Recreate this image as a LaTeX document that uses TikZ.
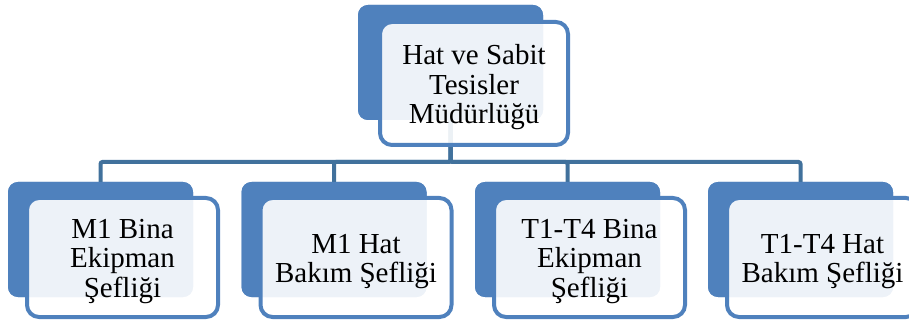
\documentclass[tikz,border=0pt]{standalone}
\usepackage{fontspec}
\setmainfont{Liberation Serif}
\definecolor{accent}{HTML}{4F81BD}
\definecolor{linkblue}{HTML}{41719C}
\tikzset{
  backbox/.style={rectangle, rounded corners=10pt, fill=accent, draw=none,
    minimum width=185pt, minimum height=115pt, inner sep=0pt},
  frontbox/.style={rectangle, rounded corners=12pt, fill=white, fill opacity=0.9,
    draw=accent, draw opacity=1, line width=4pt,
    minimum width=191pt, minimum height=119pt, inner sep=0pt},
  cardtext/.style={align=center, inner sep=0pt, yshift=-4pt,
    font=\fontsize{29}{29.5}\selectfont},
  link/.style={draw=linkblue, line width=4pt, rounded corners=2pt}
}
\begin{document}
\begin{tikzpicture}[x=1pt,y=-1pt]
\useasboundingbox (0,0) rectangle (909,320);
\begin{scope}
\clip (0,0) rectangle (909,320);
% back plates
\node[backbox] (topb) at (450.5,62.5) {};
\node[backbox] (b1) at (100.5,239.5) {};
\node[backbox] (b2) at (334,239.5) {};
\node[backbox] (b3) at (567.5,239.5) {};
\node[backbox] (b4) at (800.5,239.5) {};
% connectors from the head box to each section
\coordinate (bus) at (450.5,162);
\path[link] (topb.south) -- (bus) -| (b1.north);
\path[link] (topb.south) -- (bus) -| (b2.north);
\path[link] (topb.south) -- (bus) -| (b3.north);
\path[link] (topb.south) -- (bus) -| (b4.north);
% repaint back plates over the connector ends
\node[backbox] at (450.5,62.5) {};
\node[backbox] at (100.5,239.5) {};
\node[backbox] at (334,239.5) {};
\node[backbox] at (567.5,239.5) {};
\node[backbox] at (800.5,239.5) {};
% front cards
\node[frontbox, minimum width=188pt, minimum height=123pt] (top) at (474,83.5) {};
\node[frontbox] (f1) at (122.5,257.5) {};
\node[frontbox] (f2) at (356,257.5) {};
\node[frontbox] (f3) at (589.5,257.5) {};
\node[frontbox] (f4) at (822.5,257.5) {};
% labels
\node[cardtext] (t0) at (top.center) {Hat ve Sabit\\Tesisler\\Müdürlüğü};
\node[cardtext] (t1) at (f1.center) {M1 Bina\\Ekipman\\Şefliği};
\node[cardtext] (t2) at (f2.center) {M1 Hat\\Bakım Şefliği};
\node[cardtext] (t3) at (f3.center) {T1-T4 Bina\\Ekipman\\Şefliği};
\node[cardtext] (t4) at (f4.center) {T1-T4 Hat\\Bakım Şefliği};
\end{scope}
\end{tikzpicture}
\end{document}
